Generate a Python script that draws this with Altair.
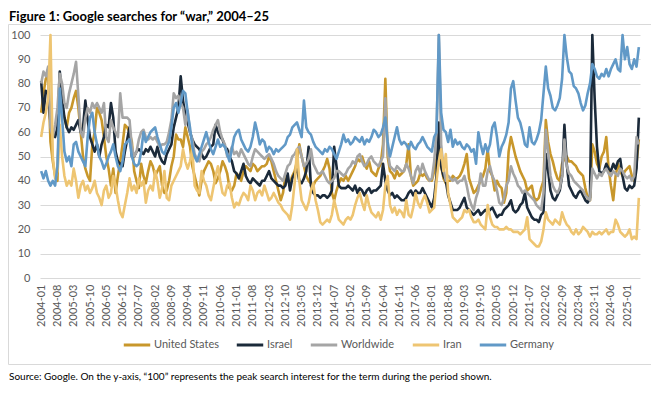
import altair as alt
import pandas as pd

# ---- categories ----
months = [f"{y}-{m:02d}" for y in range(2004, 2026) for m in range(1, 13)][:258]
tick_labels = months[::7]
series_names = ["United States", "Israel", "Worldwide", "Iran", "Germany"]
colors = ["#C8972B", "#1B2A3A", "#A5A5A5", "#EEC572", "#6199C7"]

# ---- series values (one row per year) ----
us = [
    68, 76, 82, 84, 56, 48, 42, 40, 78, 70, 66, 62,
    68, 70, 74, 77, 70, 60, 50, 45, 42, 40, 55, 60,
    70, 68, 65, 58, 50, 45, 38, 45, 35, 42, 48, 55,
    63, 62, 60, 56, 44, 40, 37, 47, 42, 39, 44, 48,
    46, 42, 44, 46, 38, 35, 36, 40, 46, 50, 59, 57,
    57, 54, 62, 58, 54, 46, 42, 38, 34, 40, 44, 46,
    48, 47, 44, 39, 41, 44, 48, 46, 43, 37, 36, 38,
    43, 42, 40, 44, 46, 45, 44, 47, 46, 44, 45, 46,
    46, 47, 50, 48, 44, 40, 36, 32, 35, 42, 40, 39,
    42, 44, 48, 55, 50, 46, 42, 40, 39, 38, 40, 41,
    42, 44, 46, 49, 45, 35, 32, 36, 39, 41, 40, 42,
    40, 42, 44, 46, 49, 48, 50, 47, 45, 48, 44, 43,
    42, 45, 47, 55, 82, 50, 44, 43, 41, 44, 42, 43,
    44, 47, 55, 42, 38, 39, 40, 43, 42, 43, 41, 40,
    40, 44, 49, 53, 46, 41, 39, 40, 40, 42, 41, 41,
    42, 44, 47, 51, 41, 38, 35, 36, 38, 40, 42, 45,
    53, 44, 42, 36, 40, 38, 37, 31, 35, 52, 58, 54,
    50, 47, 44, 42, 40, 36, 37, 38, 33, 32, 33, 37,
    40, 65, 56, 51, 48, 44, 41, 40, 47, 49, 50, 48,
    48, 47, 46, 44, 43, 42, 37, 33, 32, 55, 52, 47,
    45, 50, 52, 58, 45, 38, 32, 42, 47, 44, 42, 44,
    45, 46, 42, 40, 47, 57,
]

israel = [
    81, 68, 77, 76, 64, 60, 58, 62, 85, 74, 66, 62,
    60, 62, 61, 63, 65, 60, 62, 73, 65, 58, 55, 52,
    55, 50, 55, 58, 63, 62, 72, 66, 52, 48, 47, 46,
    52, 57, 62, 50, 50, 52, 53, 52, 51, 53, 52, 54,
    52, 50, 54, 50, 48, 47, 51, 53, 55, 62, 66, 70,
    83, 73, 67, 64, 60, 57, 55, 54, 53, 51, 49, 50,
    52, 54, 55, 63, 60, 58, 57, 54, 53, 50, 48, 44,
    43, 41, 44, 47, 42, 40, 39, 41, 40, 39, 38, 40,
    40, 42, 44, 41, 40, 39, 38, 38, 37, 38, 43, 36,
    41, 43, 45, 40, 39, 41, 44, 54, 38, 35, 34, 34,
    33, 34, 34, 33, 34, 36, 54, 46, 38, 37, 37, 37,
    38, 37, 36, 38, 35, 37, 36, 34, 36, 37, 35, 36,
    36, 37, 38, 47, 40, 36, 34, 35, 33, 34, 33, 32,
    32, 33, 35, 36, 34, 36, 35, 35, 37, 35, 33, 31,
    29, 33, 42, 64, 46, 42, 40, 34, 31, 28, 28, 28,
    29, 31, 33, 29, 28, 27, 26, 27, 28, 26, 27, 28,
    27, 28, 29, 27, 25, 26, 26, 28, 29, 30, 32, 28,
    27, 28, 30, 31, 35, 29, 27, 25, 24, 24, 23, 26,
    27, 51, 44, 36, 33, 32, 34, 36, 42, 63, 47, 38,
    36, 34, 33, 35, 36, 34, 32, 31, 33, 100, 74, 54,
    44, 43, 44, 47, 45, 44, 47, 45, 48, 49, 42, 37,
    36, 38, 37, 38, 45, 66,
]

worldwide = [
    80, 85, 83, 87, 62, 58, 63, 70, 84, 80, 72, 70,
    76, 80, 84, 89, 75, 60, 58, 66, 70, 68, 72, 70,
    72, 70, 68, 72, 58, 56, 65, 62, 60, 58, 76, 66,
    66, 66, 65, 54, 50, 52, 57, 60, 61, 58, 57, 58,
    57, 58, 56, 54, 55, 55, 56, 60, 65, 76, 74, 75,
    72, 70, 63, 69, 60, 57, 51, 49, 48, 52, 53, 55,
    56, 58, 61, 63, 65, 60, 57, 55, 50, 51, 54, 51,
    52, 50, 53, 51, 49, 47, 46, 50, 53, 52, 51, 50,
    49, 50, 51, 49, 47, 44, 42, 41, 40, 43, 46, 47,
    50, 51, 53, 54, 50, 46, 47, 49, 53, 47, 45, 43,
    43, 44, 42, 40, 39, 40, 41, 44, 44, 43, 42, 43,
    45, 46, 48, 47, 50, 51, 48, 46, 47, 49, 50, 48,
    47, 46, 48, 50, 74, 52, 46, 45, 44, 46, 45, 44,
    44, 47, 45, 42, 39, 44, 46, 43, 47, 44, 42, 40,
    41, 48, 60, 100, 55, 45, 40, 42, 41, 40, 41, 39,
    40, 40, 42, 38, 33, 30, 28, 33, 36, 43, 38, 38,
    44, 46, 42, 40, 36, 31, 30, 33, 38, 40, 46, 43,
    41, 38, 37, 35, 36, 35, 34, 33, 32, 30, 29, 28,
    35, 61, 52, 42, 38, 36, 35, 37, 42, 57, 46, 43,
    42, 40, 39, 38, 37, 36, 34, 33, 32, 45, 43, 41,
    43, 42, 44, 45, 43, 42, 44, 43, 42, 45, 44, 42,
    41, 42, 40, 42, 58, 55,
]

iran = [
    58, 64, 68, 74, 100, 50, 41, 44, 63, 50, 42, 38,
    40, 38, 45, 40, 33, 38, 40, 36, 38, 35, 37, 40,
    35, 33, 30, 36, 38, 33, 35, 42, 38, 32, 27, 25,
    30, 35, 41, 36, 38, 35, 41, 38, 40, 31, 36, 38,
    36, 44, 40, 33, 37, 44, 33, 32, 38, 40, 42, 44,
    46, 53, 48, 45, 48, 53, 38, 36, 35, 44, 40, 38,
    34, 32, 37, 42, 46, 40, 35, 34, 38, 39, 33, 29,
    31, 30, 33, 35, 34, 32, 38, 36, 32, 35, 36, 34,
    38, 35, 32, 33, 35, 33, 31, 30, 28, 27, 26, 24,
    30, 39, 53, 40, 32, 30, 28, 31, 36, 39, 32, 28,
    23, 22, 23, 24, 23, 26, 32, 28, 24, 23, 22, 24,
    25, 24, 26, 30, 33, 35, 31, 28, 34, 30, 27, 26,
    25, 27, 24, 28, 38, 42, 30, 27, 29, 26, 28, 27,
    25, 32, 26, 25, 29, 35, 31, 29, 32, 34, 31, 27,
    28, 29, 40, 48, 53, 44, 51, 35, 30, 25, 24, 23,
    24, 25, 28, 27, 28, 25, 23, 23, 24, 22, 21, 20,
    30, 25, 22, 21, 21, 20, 20, 20, 21, 20, 20, 19,
    19, 19, 18, 19, 20, 25, 16, 15, 14, 13, 13, 15,
    20, 27, 24, 23, 22, 24, 23, 22, 27, 24, 22, 21,
    19, 18, 20, 18, 19, 21, 20, 19, 17, 19, 18, 18,
    19, 18, 19, 20, 18, 19, 19, 24, 22, 19, 18, 17,
    18, 20, 16, 17, 16, 33,
]

germany = [
    44, 41, 44, 40, 38, 40, 38, 46, 78, 66, 52, 48,
    50, 46, 55, 56, 52, 50, 48, 46, 58, 66, 68, 60,
    55, 50, 48, 45, 47, 50, 52, 55, 50, 46, 44, 48,
    55, 56, 57, 50, 47, 46, 47, 52, 60, 56, 58, 60,
    61, 62, 58, 55, 52, 51, 54, 56, 62, 70, 72, 68,
    72, 77, 76, 68, 62, 54, 50, 48, 51, 54, 57, 60,
    56, 53, 51, 54, 57, 54, 55, 54, 51, 48, 53, 58,
    60, 61, 57, 55, 53, 52, 54, 58, 64, 60, 55, 57,
    56, 52, 54, 53, 51, 53, 52, 53, 54, 55, 58, 59,
    62, 63, 64, 61, 58, 73, 62, 60, 59, 56, 54, 53,
    52, 51, 53, 52, 54, 53, 51, 49, 52, 55, 59, 56,
    57, 55, 56, 58, 57, 56, 58, 55, 57, 56, 58, 61,
    60, 58, 59, 62, 66, 56, 50, 54, 58, 62, 57, 55,
    56, 55, 53, 56, 54, 53, 55, 56, 58, 56, 54, 53,
    52, 58, 60, 100, 68, 61, 60, 56, 61, 54, 57, 55,
    56, 54, 53, 55, 54, 52, 53, 47, 60, 55, 51, 55,
    52, 55, 62, 64, 58, 50, 54, 56, 59, 64, 78, 81,
    73, 66, 64, 60, 55, 54, 62, 56, 55, 57, 60, 65,
    76, 87, 78, 75, 70, 69, 71, 74, 82, 100, 91, 85,
    84, 79, 78, 76, 72, 69, 71, 76, 80, 88, 86, 83,
    82, 84, 83, 86, 83, 86, 88, 90, 86, 85, 100, 90,
    95, 88, 86, 90, 87, 95,
]

title_text = "Figure 1: Google searches for \u201cwar,\u201d 2004\u201325"
source_text = ("Source: Google. On the y-axis, \u201c100\u201d represents the peak search "
               "interest for the term during the period shown.")

rows = []
for name, vals in zip(series_names, [us, israel, worldwide, iran, germany]):
    for m, v in zip(months, vals):
        rows.append({"month": m, "series": name, "value": v})
df = pd.DataFrame(rows)

FONT = "Lato"
GREY_TXT = "#595959"

x_enc = alt.X(
    "month:O",
    sort=months,
    scale=alt.Scale(type="point", padding=0.5),
    axis=alt.Axis(
        values=tick_labels, title=None, labelAngle=270, labelAlign="right",
        labelBaseline="middle", labelOverlap=False, ticks=False, domain=False,
        grid=False, labelPadding=6, labelFontSize=11, labelColor=GREY_TXT,
        labelFont=FONT,
    ),
)
y_enc = alt.Y(
    "value:Q",
    scale=alt.Scale(domain=[0, 100], nice=False),
    axis=alt.Axis(
        values=list(range(0, 101, 10)), title=None, ticks=False, domain=False,
        grid=True, gridColor="#D9D9D9", gridWidth=1, labelPadding=10,
        labelFontSize=11, labelColor=GREY_TXT, labelFont=FONT,
    ),
)
color_enc = alt.Color(
    "series:N",
    scale=alt.Scale(domain=series_names, range=colors),
    legend=alt.Legend(
        title=None, orient="none", legendX=82, legendY=295,
        direction="horizontal", columns=5, symbolType="stroke",
        symbolStrokeWidth=3, symbolSize=700, labelFontSize=11,
        labelColor=GREY_TXT, labelFont=FONT, columnPadding=11, labelOffset=2,
    ),
)

base = alt.Chart(df).encode(x=x_enc, y=y_enc, color=color_enc)
line_layers = [
    base.transform_filter(alt.datum.series == name).mark_line(
        strokeWidth=2.6, strokeJoin="round"
    )
    for name in series_names
]

one = pd.DataFrame({"k": [0]})
frame = alt.Chart(one).mark_rect(
    fillOpacity=0, stroke="#D9D9D9", strokeWidth=1, clip=False
).encode(x=alt.value(-31.5), x2=alt.value(611.5), y=alt.value(-10.5), y2=alt.value(329.5))

title = alt.Chart(one).mark_text(
    text=title_text, align="left", baseline="alphabetic", font=FONT,
    fontSize=13, fontWeight="bold", color="#000000",
).encode(x=alt.value(-31), y=alt.value(-14.5))

source = alt.Chart(one).mark_text(
    text=source_text, align="left", baseline="alphabetic", font=FONT,
    fontSize=10, color="#000000",
).encode(x=alt.value(-31), y=alt.value(345))

chart = alt.layer(frame, *line_layers, title, source).properties(
    width=600,
    height=243,
    autosize=alt.AutoSizeParams(type="none"),
    padding={"left": 32, "top": 27, "right": 11, "bottom": 110},
    background="white",
).configure_view(stroke=None)

chart.save("out.html", embed_options={"renderer": "svg", "actions": False})
